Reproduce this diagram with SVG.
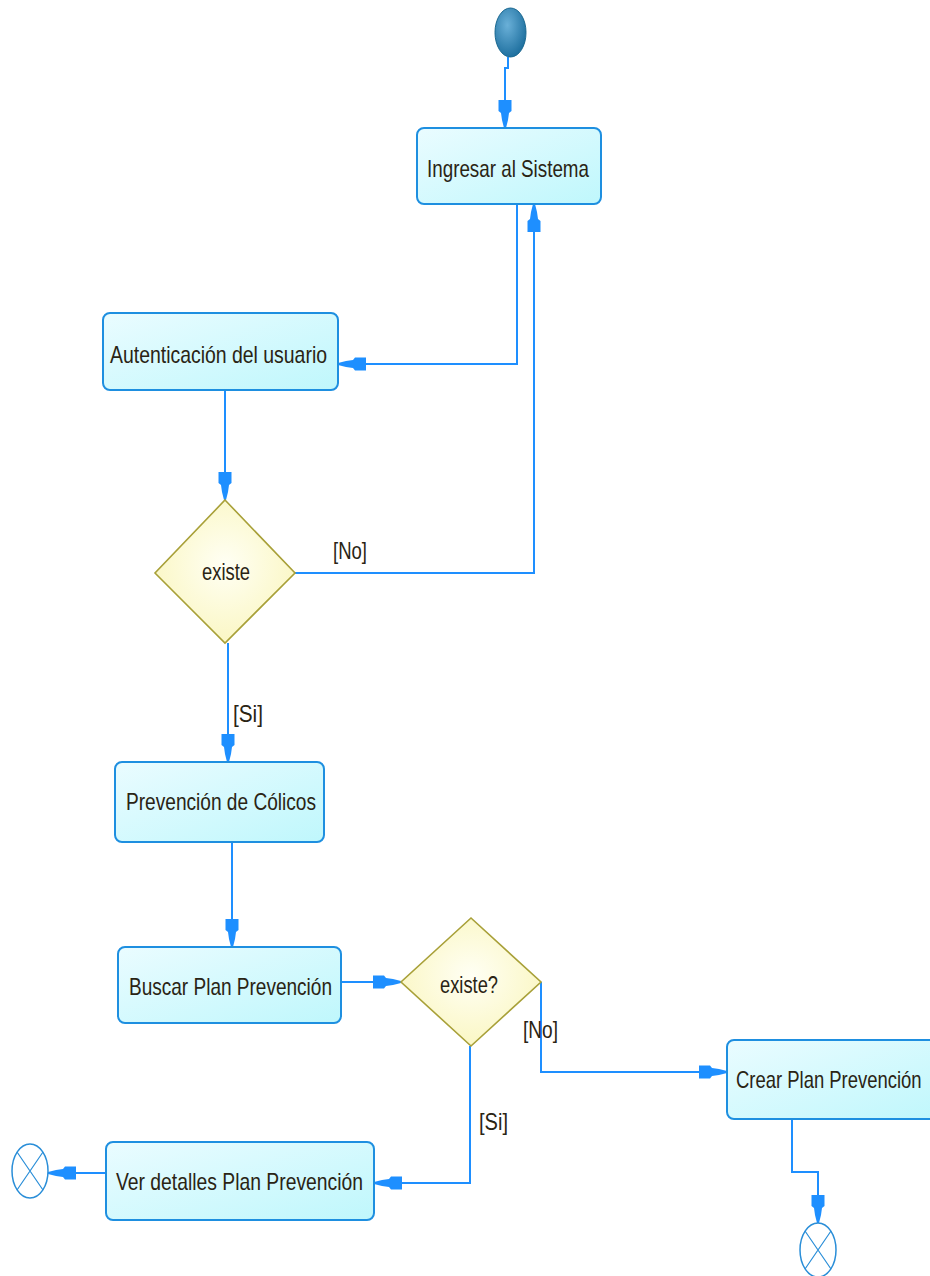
<svg xmlns="http://www.w3.org/2000/svg" width="930" height="1276" viewBox="0 0 930 1276">
<style>
.box{fill:url(#boxg);stroke:#1e8fe0;stroke-width:2}
.dia{fill:url(#diag);stroke:#a8a038;stroke-width:1.6}
.t{font-family:"Liberation Sans",Arial,sans-serif;font-size:24px;fill:#2a2414}
.c{fill:none;stroke:#1e8fff;stroke-width:2}
.end{fill:#fff;stroke:#2a8ed8;stroke-width:1.5}
</style>
<defs>
<linearGradient id="boxg" x1="0" y1="0" x2="1" y2="1">
<stop offset="0" stop-color="#eafcff"/>
<stop offset="1" stop-color="#bff7fc"/>
</linearGradient>
<radialGradient id="diag" cx="0.5" cy="0.45" r="0.6">
<stop offset="0" stop-color="#fffff4"/>
<stop offset="1" stop-color="#faf6c0"/>
</radialGradient>
<radialGradient id="startg" cx="0.4" cy="0.35" r="0.7">
<stop offset="0" stop-color="#6ab0d8"/>
<stop offset="1" stop-color="#1a6c9c"/>
</radialGradient>
<marker id="arr" markerUnits="userSpaceOnUse" viewBox="-30 -7 31 14" refX="0" refY="0" markerWidth="31" markerHeight="14" orient="auto">
<path d="M0,-1 L-8,-3 L-15,-4 L-17,-6.5 L-28,-6.5 L-28,6.5 L-17,6.5 L-15,4 L-8,3 L0,1 Z" fill="#1e8fff"/>
</marker>
</defs>

<g id="connectors">
<path class="c" d="M508,57 V68 H505 V128" marker-end="url(#arr)"/>
<path class="c" d="M517,204 V364 H338" marker-end="url(#arr)"/>
<path class="c" d="M225,390 V500" marker-end="url(#arr)"/>
<path class="c" d="M295,573 H534 V204" marker-end="url(#arr)"/>
<path class="c" d="M228,643 V762" marker-end="url(#arr)"/>
<path class="c" d="M232,842 V947" marker-end="url(#arr)"/>
<path class="c" d="M341,982 H401" marker-end="url(#arr)"/>
<path class="c" d="M541,982 V1072 H727" marker-end="url(#arr)"/>
<path class="c" d="M470,1046 V1183 H374" marker-end="url(#arr)"/>
<path class="c" d="M106,1173 H48" marker-end="url(#arr)"/>
<path class="c" d="M792,1119 V1172 H818 V1223" marker-end="url(#arr)"/>
<text class="t" x="333" y="559" textLength="34" lengthAdjust="spacingAndGlyphs">[No]</text>
<text class="t" x="233" y="722" textLength="30" lengthAdjust="spacingAndGlyphs">[Si]</text>
<text class="t" x="523" y="1038" textLength="35" lengthAdjust="spacingAndGlyphs">[No]</text>
<text class="t" x="479" y="1130" textLength="29" lengthAdjust="spacingAndGlyphs">[Si]</text>
</g>

<g id="start">
<ellipse cx="510.5" cy="32.5" rx="15.5" ry="24.5" fill="url(#startg)" stroke="#1a6890" stroke-width="1"/>
</g>

<g id="ingresar">
<rect class="box" x="417" y="128" width="184" height="76" rx="7"/>
<text class="t" x="427" y="177" textLength="162" lengthAdjust="spacingAndGlyphs">Ingresar al Sistema</text>
</g>

<g id="autenticacion">
<rect class="box" x="103" y="313" width="235" height="77" rx="7"/>
<text class="t" x="110" y="363" textLength="217" lengthAdjust="spacingAndGlyphs">Autenticación del usuario</text>
</g>

<g id="existe1">
<polygon class="dia" points="225,500 295,573 225,643 155,573"/>
<text class="t" x="202" y="580" textLength="48" lengthAdjust="spacingAndGlyphs">existe</text>
</g>

<g id="prevencion">
<rect class="box" x="115" y="762" width="209" height="80" rx="7"/>
<text class="t" x="126" y="810" textLength="190" lengthAdjust="spacingAndGlyphs">Prevención de Cólicos</text>
</g>

<g id="buscar">
<rect class="box" x="118" y="947" width="223" height="76" rx="7"/>
<text class="t" x="129" y="995" textLength="203" lengthAdjust="spacingAndGlyphs">Buscar Plan Prevención</text>
</g>

<g id="existe2">
<polygon class="dia" points="471,918 541,982 471,1046 401,982"/>
<text class="t" x="440" y="993" textLength="58" lengthAdjust="spacingAndGlyphs">existe?</text>
</g>

<g id="crear">
<rect class="box" x="727" y="1040" width="215" height="79" rx="7"/>
<text class="t" transform="translate(736,1088) scale(0.8,1)" x="0" y="0" textLength="232" lengthAdjust="spacingAndGlyphs">Crear Plan Prevención</text>
</g>

<g id="ver">
<rect class="box" x="106" y="1142" width="268" height="78" rx="7"/>
<text class="t" x="116" y="1190" textLength="247" lengthAdjust="spacingAndGlyphs">Ver detalles Plan Prevención</text>
</g>

<g id="end1">
<ellipse class="end" cx="30" cy="1171" rx="18" ry="27"/>
<path d="M17,1152 L43,1190 M43,1152 L17,1190" stroke="#2a8ed8" stroke-width="1.2"/>
</g>

<g id="end2">
<ellipse class="end" cx="818" cy="1250" rx="18" ry="27"/>
<path d="M805,1231 L831,1269 M831,1231 L805,1269" stroke="#2a8ed8" stroke-width="1.2"/>
</g>
</svg>
